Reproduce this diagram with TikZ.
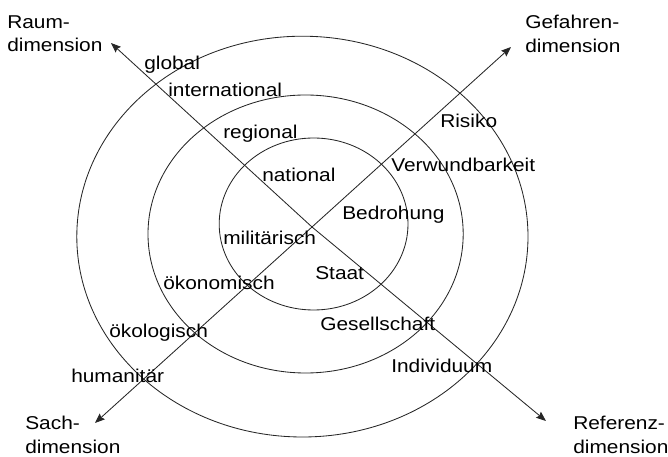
\documentclass[tikz,border=0pt]{standalone}
\usepackage{fontspec}
\setmainfont{Liberation Sans}[FakeStretch=1.125]
\usetikzlibrary{arrows.meta}
\tikzset{
  ring/.style={draw=black!85, line width=0.6pt},
  axis/.style={draw=black!85, line width=0.6pt, -{Stealth[length=7pt,width=5.5pt,inset=1pt]}},
  lbl/.style={anchor=base west, inner sep=0pt},
  dim/.style={anchor=north west, align=left, inner sep=0pt}
}
\begin{document}
\begin{tikzpicture}[font=\fontsize{13.2}{17}\selectfont]
\useasboundingbox (0,0) rectangle (16.7,11.425);

\draw[ring] (7.56,5.51) ellipse [x radius=5.64, y radius=5.01];
\draw[ring] (7.64,5.575) ellipse [x radius=3.94, y radius=3.475];
\draw[ring] (7.84,5.825) ellipse [x radius=2.36, y radius=2.15];

\coordinate (o) at (7.8,5.75);
\coordinate (raum) at (2.775,10.35);
\coordinate (gefahr) at (12.775,10.25);
\coordinate (sach) at (2.375,0.85);
\coordinate (ref) at (13.65,0.9);

\draw[axis] (o) -- (raum);
\draw[axis] (o) -- (gefahr);
\draw[axis] (o) -- (sach);
\draw[axis] (o) -- (ref);

\node[dim] (raumtxt) at (0.175,11.05) {Raum-\\dimension};
\node[dim] (gefahrtxt) at (13.125,11.05) {Gefahren-\\dimension};
\node[dim] (sachtxt) at (0.625,1.02) {Sach-\\dimension};
\node[dim] (reftxt) at (14.325,1.02) {Referenz-\\dimension};

\node[lbl] (global) at (3.6,9.675) {global};
\node[lbl] (internat) at (4.2,9.0125) {international};
\node[lbl] (regional) at (5.575,7.95) {regional};
\node[lbl] (national) at (6.55,6.875) {national};

\node[lbl] (risiko) at (11.0,8.225) {Risiko};
\node[lbl] (verwund) at (9.775,7.125) {Verwundbarkeit};
\node[lbl] (bedroh) at (8.55,5.925) {Bedrohung};

\node[lbl] (milit) at (5.575,5.3) {militärisch};
\node[lbl] (oekon) at (4.075,4.175) {ökonomisch};
\node[lbl] (oekol) at (2.725,2.975) {ökologisch};
\node[lbl] (human) at (1.775,1.85) {humanitär};

\node[lbl] (staat) at (7.875,4.425) {Staat};
\node[lbl] (gesell) at (8.0,3.15) {Gesellschaft};
\node[lbl] (indiv) at (9.775,2.1) {Individuum};
\end{tikzpicture}
\end{document}
